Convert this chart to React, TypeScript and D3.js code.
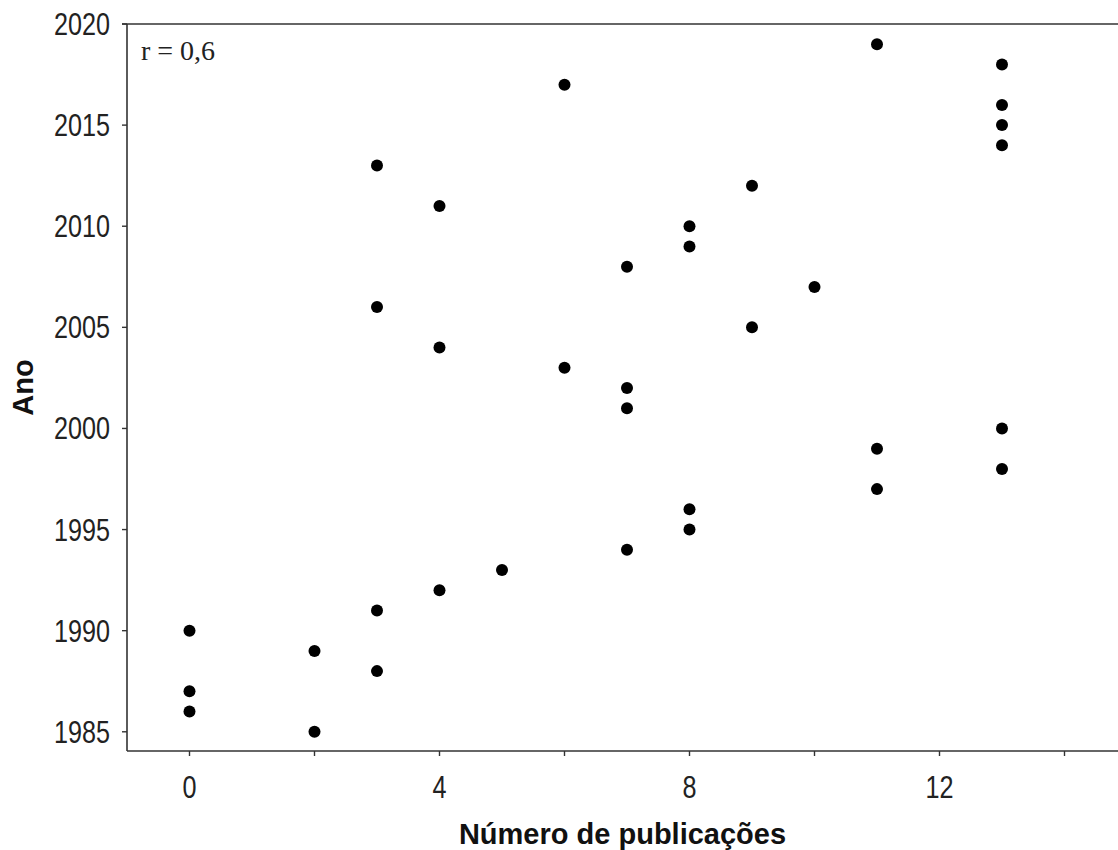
import React from "react";
import * as d3 from "d3";

const publications = [0, 0, 0, 2, 2, 3, 3, 3, 3, 4, 4, 4, 5, 6, 6, 7, 7, 7, 7, 8, 8, 8, 8, 9, 9, 10, 11, 11, 11, 13, 13, 13, 13, 13, 13];
const years = [1990, 1987, 1986, 1989, 1985, 2013, 2006, 1991, 1988, 2011, 2004, 1992, 1993, 2017, 2003, 2008, 2002, 2001, 1994, 2010, 2009, 1996, 1995, 2012, 2005, 2007, 2019, 1999, 1997, 2018, 2016, 2015, 2014, 2000, 1998];
const xTicks = [0, 2, 4, 6, 8, 10, 12, 14];
const xLabels = [0, 4, 8, 12];
const yTicks = [1985, 1990, 1995, 2000, 2005, 2010, 2015, 2020];
const annotation = "r = 0,6";
const xTitle = "Número de publicações";
const yTitle = "Ano";

const W = 1118;
const H = 850;
const left = 127;
const right = 1127;
const top = 24;
const bottom = 751;

export default function App() {
  const x = d3.scaleLinear().domain([-1, 15]).range([left, right]);
  const y = d3.scaleLinear().domain([1984.05, 2020]).range([bottom, top]);
  const axisColor = "#333";
  const textColor = "#222";
  const digitW = 14;
  const narrow = "'Liberation Sans Narrow', 'Liberation Sans', Arial, sans-serif";
  return (
    <div style={{ position: "absolute", left: 0, top: 0 }}>
      <svg width={W} height={H} style={{ display: "block", background: "#fff" }}>
        <line x1={left - 5} x2={right} y1={top} y2={top} stroke={axisColor} strokeWidth={1.6} />
        <line x1={left} x2={left} y1={top} y2={bottom} stroke={axisColor} strokeWidth={1.6} />
        <line x1={left} x2={right} y1={bottom} y2={bottom} stroke={axisColor} strokeWidth={1.6} />
        {xTicks.map((t) => (
          <line key={"xt" + t} x1={x(t)} x2={x(t)} y1={bottom} y2={bottom + 5} stroke={axisColor} strokeWidth={1.4} />
        ))}
        {xLabels.map((t) => (
          <text
            key={"xl" + t}
            x={x(t)}
            y={798}
            textAnchor="middle"
            fontFamily={narrow}
            fontSize={32}
            fill={textColor}
            textLength={String(t).length * digitW}
            lengthAdjust="spacingAndGlyphs"
          >
            {t}
          </text>
        ))}
        {yTicks.map((t) => (
          <line key={"yt" + t} x1={left - 5} x2={left} y1={y(t)} y2={y(t)} stroke={axisColor} strokeWidth={1.4} />
        ))}
        {yTicks.map((t) => (
          <text
            key={"yl" + t}
            x={110}
            y={y(t) + 11}
            textAnchor="end"
            fontFamily={narrow}
            fontSize={31}
            fill={textColor}
            textLength={String(t).length * digitW}
            lengthAdjust="spacingAndGlyphs"
          >
            {t}
          </text>
        ))}
        {publications.map((p, i) => (
          <circle key={"pt" + i} cx={x(p)} cy={y(years[i])} r={6} fill="#000" />
        ))}
        <text x={141} y={60} fontFamily="'Liberation Serif', 'Times New Roman', serif" fontSize={28} fill={textColor}>
          {annotation}
        </text>
        <text
          x={(left + W) / 2}
          y={844}
          textAnchor="middle"
          fontFamily="'Liberation Sans', Arial, sans-serif"
          fontWeight="bold"
          fontSize={29}
          fill="#111"
        >
          {xTitle}
        </text>
        <text
          transform={`translate(33, ${(top + bottom) / 2}) rotate(-90)`}
          textAnchor="middle"
          fontFamily="'Liberation Sans', Arial, sans-serif"
          fontWeight="bold"
          fontSize={29}
          fill="#111"
        >
          {yTitle}
        </text>
      </svg>
    </div>
  );
}
